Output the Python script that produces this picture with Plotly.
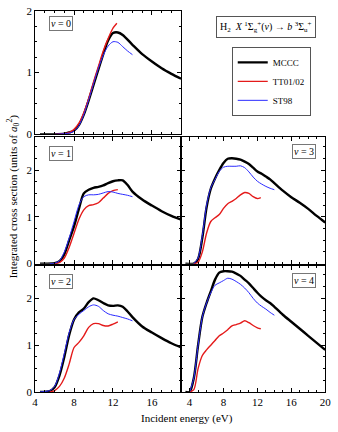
import plotly.graph_objects as go

# ---------------- data ----------------
# v = 0
e0_mccc = [4.5, 6, 7, 7.5, 8, 8.5, 9, 9.5, 10, 10.5, 11, 11.5, 12, 12.5, 13, 14, 15, 16, 17, 18, 19]
s0_mccc = [0, 0, 0.01, 0.03, 0.06, 0.15, 0.32, 0.55, 0.8, 1.05, 1.3, 1.52, 1.64, 1.65, 1.61, 1.45, 1.3, 1.18, 1.07, 0.98, 0.9]
e0_tt = [6, 7, 7.5, 8, 8.5, 9, 9.5, 10, 10.5, 11, 11.5, 12, 12.4]
s0_tt = [0, 0.01, 0.03, 0.08, 0.18, 0.35, 0.58, 0.85, 1.1, 1.35, 1.55, 1.72, 1.8]
e0_st = [6, 7, 7.5, 8, 8.5, 9, 9.5, 10, 10.5, 11, 11.5, 12, 12.5, 13, 13.5, 14]
s0_st = [0, 0.01, 0.02, 0.05, 0.14, 0.32, 0.56, 0.82, 1.07, 1.28, 1.43, 1.5, 1.49, 1.42, 1.35, 1.29]

# v = 1
e1_mccc = [4.5, 6, 6.5, 7, 7.5, 8, 8.5, 9, 9.5, 10, 10.5, 11, 11.5, 12, 12.5, 13, 13.5, 14, 15, 16, 17, 18, 19]
s1_mccc = [0, 0.01, 0.05, 0.2, 0.5, 0.8, 1.17, 1.5, 1.58, 1.62, 1.64, 1.67, 1.72, 1.76, 1.78, 1.78, 1.68, 1.54, 1.37, 1.24, 1.12, 1.02, 0.94]
e1_tt = [6, 6.5, 7, 7.5, 8, 8.5, 9, 9.5, 10, 10.5, 11, 11.5, 12, 12.5]
s1_tt = [0, 0.02, 0.12, 0.35, 0.65, 0.95, 1.15, 1.24, 1.26, 1.3, 1.4, 1.5, 1.56, 1.58]
e1_st = [5.5, 6, 6.5, 7, 7.5, 8, 8.5, 9, 9.5, 10, 10.5, 11, 11.5, 12, 12.5, 13, 13.5, 14]
s1_st = [0, 0.01, 0.06, 0.25, 0.55, 0.9, 1.25, 1.43, 1.47, 1.47, 1.48, 1.51, 1.54, 1.53, 1.5, 1.48, 1.46, 1.43]

# v = 2
e2_mccc = [4.5, 5.5, 6, 6.5, 7, 7.5, 8, 8.5, 9, 9.5, 10, 10.5, 11, 11.5, 12, 12.5, 13, 13.5, 14, 15, 16, 17, 18, 19]
s2_mccc = [0, 0.02, 0.1, 0.35, 0.75, 1.22, 1.55, 1.7, 1.78, 1.92, 2.0, 1.96, 1.9, 1.85, 1.84, 1.85, 1.82, 1.72, 1.6, 1.4, 1.27, 1.15, 1.04, 0.95]
e2_tt = [5.5, 6, 6.5, 7, 7.5, 8, 8.5, 9, 9.5, 10, 10.5, 11, 11.5, 12, 12.5]
s2_tt = [0, 0.03, 0.12, 0.3, 0.6, 0.95, 1.06, 1.2, 1.38, 1.46, 1.46, 1.42, 1.41, 1.45, 1.5]
e2_st = [4.5, 5.5, 6, 6.5, 7, 7.5, 8, 8.5, 9, 9.5, 10, 10.5, 11, 11.5, 12, 12.5, 13, 13.5, 14]
s2_st = [0, 0.03, 0.12, 0.4, 0.82, 1.27, 1.55, 1.66, 1.74, 1.82, 1.86, 1.83, 1.74, 1.67, 1.64, 1.62, 1.59, 1.56, 1.52]

# v = 3
e3_mccc = [3.5, 4.5, 5, 5.5, 6, 6.5, 7, 7.5, 8, 8.5, 9, 9.5, 10, 10.5, 11, 11.5, 12, 12.5, 13, 13.5, 14, 15, 16, 17, 18, 19, 20]
s3_mccc = [0, 0, 0.1, 0.55, 1.2, 1.6, 1.82, 2.0, 2.15, 2.24, 2.25, 2.24, 2.22, 2.18, 2.13, 2.05, 1.97, 1.92, 1.86, 1.8, 1.72, 1.56, 1.42, 1.3, 1.17, 1.02, 0.88]
e3_tt = [4.5, 5, 5.5, 6, 6.5, 7, 7.5, 8, 8.5, 9, 9.5, 10, 10.5, 11, 11.5, 12, 12.4]
s3_tt = [0, 0.03, 0.25, 0.65, 0.9, 0.98, 1.05, 1.18, 1.28, 1.33, 1.39, 1.47, 1.52, 1.5, 1.43, 1.39, 1.41]
e3_st = [4.5, 5, 5.5, 6, 6.5, 7, 7.5, 8, 8.5, 9, 9.5, 10, 10.5, 11, 11.5, 12, 12.5, 13, 13.5, 14]
s3_st = [0, 0.12, 0.6, 1.25, 1.62, 1.8, 1.97, 2.06, 2.08, 2.08, 2.08, 2.09, 2.05, 1.96, 1.85, 1.76, 1.7, 1.65, 1.61, 1.58]

# v = 4
e4_mccc = [3.5, 4, 4.5, 5, 5.5, 6, 6.5, 7, 7.5, 8, 8.5, 9, 9.5, 10, 10.5, 11, 11.5, 12, 12.5, 13, 13.5, 14, 15, 16, 17, 18, 19, 20]
s4_mccc = [0, 0, 0.3, 1.0, 1.6, 1.9, 2.15, 2.4, 2.55, 2.58, 2.58, 2.57, 2.53, 2.48, 2.4, 2.32, 2.22, 2.12, 2.03, 1.96, 1.9, 1.82, 1.65, 1.5, 1.35, 1.2, 1.05, 0.9]
e4_tt = [4, 4.5, 5, 5.5, 6, 6.5, 7, 7.5, 8, 8.5, 9, 9.5, 10, 10.5, 11, 11.5, 12, 12.4]
s4_tt = [0, 0.05, 0.5, 0.78, 0.9, 1.0, 1.1, 1.2, 1.26, 1.33, 1.41, 1.44, 1.47, 1.52, 1.48, 1.42, 1.37, 1.35]
e4_st = [4, 4.5, 5, 5.5, 6, 6.5, 7, 7.5, 8, 8.5, 9, 9.5, 10, 10.5, 11, 11.5, 12, 12.5, 13, 13.5, 14]
s4_st = [0, 0.3, 1.0, 1.6, 1.9, 2.12, 2.28, 2.33, 2.38, 2.43, 2.41, 2.36, 2.3, 2.22, 2.12, 2.0, 1.9, 1.83, 1.77, 1.7, 1.64]

series_names = ["MCCC", "TT01/02", "ST98"]
panel_labels = ["<i>v</i> = 0", "<i>v</i> = 1", "<i>v</i> = 2", "<i>v</i> = 3", "<i>v</i> = 4"]
x_ticks = [4, 8, 12, 16, 20]
y_ticks = [0, 1, 2]

panels = [
    (e0_mccc, s0_mccc, e0_tt, s0_tt, e0_st, s0_st),
    (e1_mccc, s1_mccc, e1_tt, s1_tt, e1_st, s1_st),
    (e2_mccc, s2_mccc, e2_tt, s2_tt, e2_st, s2_st),
    (e3_mccc, s3_mccc, e3_tt, s3_tt, e3_st, s3_st),
    (e4_mccc, s4_mccc, e4_tt, s4_tt, e4_st, s4_st),
]

# ---------------- layout geometry ----------------
W, H = 338, 432
FONT = "Liberation Serif, Times New Roman, serif"
colors = ["#000000", "#e41a1a", "#2b2bff"]
widths = [2.4, 1.4, 1.0]

def xd(a, b):
    return [a / W, b / W]

def yd(top, bot):
    return [1 - bot / H, 1 - top / H]

# (xdomain, ydomain, xrange, yrange, show x labels, show y labels)
geo = [
    (xd(33, 183), yd(5, 132), [4, 19], [0, 2], False, True),
    (xd(33, 183), yd(135, 265), [4, 19], [0, 2.7], False, True),
    (xd(33, 183), yd(267, 397), [4, 19], [0, 2.7], True, True),
    (xd(183, 331), yd(135, 265), [3, 20], [0, 2.7], False, False),
    (xd(183, 331), yd(267, 397), [3, 20], [0, 2.7], True, False),
]
label_pos = [(0.18, 0.898), (0.18, 0.873), (0.18, 0.877), (0.856, 0.888), (0.856, 0.88)]

fig = go.Figure()
layout = dict(
    width=W, height=H,
    margin=dict(l=0, r=0, t=0, b=0),
    paper_bgcolor="white", plot_bgcolor="white",
    font=dict(family=FONT, size=11, color="black"),
    showlegend=True,
    legend=dict(x=235 / W, y=1 - 42 / H, xanchor="left", yanchor="top",
                bordercolor="#555", borderwidth=1, bgcolor="white",
                font=dict(family=FONT, size=9), tracegroupgap=0,
                itemwidth=30),
)
annotations = []

for i, (pdata, g) in enumerate(zip(panels, geo)):
    n = "" if i == 0 else str(i + 1)
    xa, ya = "x" + n, "y" + n
    xdom, ydom, xr, yr, showx, showy = g
    for k in range(3):
        fig.add_trace(go.Scatter(
            x=pdata[2 * k], y=pdata[2 * k + 1], mode="lines",
            line=dict(color=colors[k], width=widths[k], shape="spline", smoothing=0.8),
            name=series_names[k], showlegend=(i == 0),
            xaxis=xa, yaxis=ya, hoverinfo="skip"))
    common = dict(showline=True, linecolor="black", linewidth=1, mirror="ticks",
                  ticks="inside", ticklen=4, tickcolor="black", showgrid=False,
                  zeroline=False, tickfont=dict(family=FONT, size=11),
                  ticklabeloverflow="allow")
    layout["xaxis" + n] = dict(
        common, domain=xdom, range=xr, anchor=ya, tickvals=x_ticks,
        showticklabels=showx,
        minor=dict(ticks="inside", ticklen=2, tickcolor="black", dtick=1, tick0=0))
    layout["yaxis" + n] = dict(
        common, domain=ydom, range=yr, anchor=xa, tickvals=y_ticks,
        showticklabels=showy,
        minor=dict(ticks="inside", ticklen=2, tickcolor="black", dtick=0.25, tick0=0))
    lx, ly = label_pos[i]
    annotations.append(dict(
        text=panel_labels[i], xref=xa + " domain", yref=ya + " domain",
        x=lx, y=ly, xanchor="center", yanchor="middle", showarrow=False,
        font=dict(family=FONT, size=10), bordercolor="#777", borderwidth=1,
        borderpad=1, bgcolor="white"))

annotations.append(dict(
    text="H<sub>2</sub>  <i>X</i> <sup>1</sup>Σ<sub>g</sub><sup>+</sup>(<i>v</i>) → <i>b</i> <sup>3</sup>Σ<sub>u</sub><sup>+</sup>",
    xref="paper", yref="paper", x=270.5 / W, y=1 - 22 / H, xanchor="center", yanchor="middle",
    showarrow=False, font=dict(family=FONT, size=10), bordercolor="#555", borderwidth=1,
    borderpad=3, bgcolor="white"))
annotations.append(dict(
    text="Integrated cross section (units of <i>a</i><sub>0</sub><sup>2</sup>)",
    xref="paper", yref="paper", x=10 / W, y=1 - 196 / H, xanchor="center", yanchor="middle",
    textangle=-90, showarrow=False, font=dict(family=FONT, size=11)))
annotations.append(dict(
    text="Incident energy (eV)",
    xref="paper", yref="paper", x=189 / W, y=1 - 424 / H, xanchor="center", yanchor="middle",
    showarrow=False, font=dict(family=FONT, size=11)))

layout["annotations"] = annotations
fig.update_layout(**layout)
fig.write_html("out.html", config={"displayModeBar": False},
               post_script="document.body.style.margin='0px';")
